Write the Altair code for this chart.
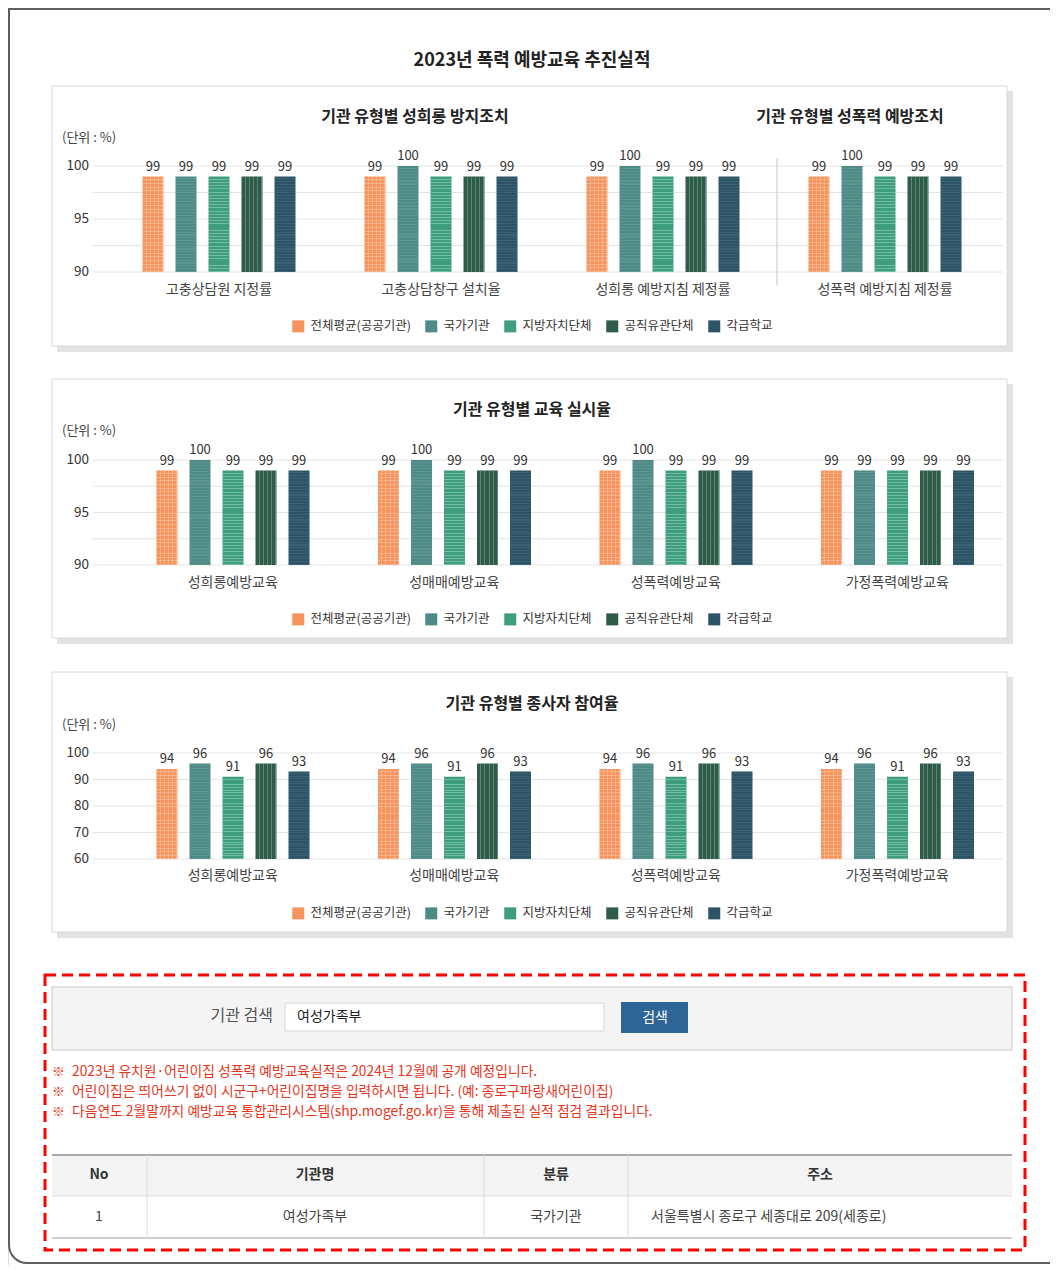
import altair as alt
import pandas as pd

FONT = "Noto Sans CJK KR"

# ---------------- data ----------------
MAIN_TITLE = "2023년 폭력 예방교육 추진실적"
SERIES = ["전체평균(공공기관)", "국가기관", "지방자치단체", "공직유관단체", "각급학교"]
COLORS = ["#F7935C", "#4E8A86", "#3E9D7F", "#2F5B49", "#2D5366"]
UNIT = "(단위 : %)"

P1_TITLES = ["기관 유형별 성희롱 방지조치", "기관 유형별 성폭력 예방조치"]
P1_CATS = ["고충상담원 지정률", "고충상담창구 설치율", "성희롱 예방지침 제정률", "성폭력 예방지침 제정률"]
P1_VALS = [[99, 99, 99, 99, 99],
           [99, 100, 99, 99, 99],
           [99, 100, 99, 99, 99],
           [99, 100, 99, 99, 99]]

P2_TITLE = "기관 유형별 교육 실시율"
P2_CATS = ["성희롱예방교육", "성매매예방교육", "성폭력예방교육", "가정폭력예방교육"]
P2_VALS = [[99, 100, 99, 99, 99],
           [99, 100, 99, 99, 99],
           [99, 100, 99, 99, 99],
           [99, 99, 99, 99, 99]]

P3_TITLE = "기관 유형별 종사자 참여율"
P3_CATS = ["성희롱예방교육", "성매매예방교육", "성폭력예방교육", "가정폭력예방교육"]
P3_VALS = [[94, 96, 91, 96, 93],
           [94, 96, 91, 96, 93],
           [94, 96, 91, 96, 93],
           [94, 96, 91, 96, 93]]

TICKS_A = [90, 95, 100]
GRID_A = [90, 92.5, 95, 97.5, 100]
TICKS_B = [60, 70, 80, 90, 100]

SEARCH_LABEL = "기관 검색"
SEARCH_VALUE = "여성가족부"
SEARCH_BUTTON = "검색"
NOTES = [
    "2023년 유치원·어린이집 성폭력 예방교육실적은 2024년 12월에 공개 예정입니다.",
    "어린이집은 띄어쓰기 없이 시군구+어린이집명을 입력하시면 됩니다. (예: 종로구파랑새어린이집)",
    "다음연도 2월말까지 예방교육 통합관리시스템(shp.mogef.go.kr)을 통해 제출된 실적 점검 결과입니다.",
]
TABLE_HEAD = ["No", "기관명", "분류", "주소"]
TABLE_ROW = ["1", "여성가족부", "국가기관", "서울특별시 종로구 세종대로 209(세종로)"]

# ---------------- helpers ----------------
ONE = pd.DataFrame({"a": [0]})


def txt(s, x, y, size=12, color="#333", weight="normal", align="center"):
    return alt.Chart(pd.DataFrame({"t": [s]})).mark_text(
        font=FONT, fontSize=size, color=color, fontWeight=weight,
        align=align, baseline="middle"
    ).encode(x=alt.value(x), y=alt.value(y), text="t:N")


def box(x1, y1, x2, y2, **kw):
    return alt.Chart(ONE).mark_rect(**kw).encode(
        x=alt.value(x1), x2=alt.value(x2), y=alt.value(y1), y2=alt.value(y2))


def line(x1, y1, x2, y2, **kw):
    return alt.Chart(ONE).mark_rule(**kw).encode(
        x=alt.value(x1), x2=alt.value(x2), y=alt.value(y1), y2=alt.value(y2))


def stripes(n, c_base, c_line, frac, vertical):
    """Sharp-edged striped linear gradient (texture approximation)."""
    stops = []
    for i in range(n):
        a = i / n
        b = (i + 1 - frac) / n
        c = (i + 1) / n
        stops += [alt.GradientStop(color=c_base, offset=a),
                  alt.GradientStop(color=c_base, offset=b),
                  alt.GradientStop(color=c_line, offset=b),
                  alt.GradientStop(color=c_line, offset=c)]
    if vertical:
        return alt.LinearGradient(gradient="linear", stops=stops, x1=0, x2=1, y1=0, y2=0)
    return alt.LinearGradient(gradient="linear", stops=stops, x1=0, x2=0, y1=0, y2=1)


CLEAR = "rgba(255,255,255,0)"
TEXTURES = [
    (SERIES[0], stripes(5, CLEAR, "rgba(255,225,200,0.35)", 0.25, True)),
    (SERIES[0], stripes(26, CLEAR, "rgba(255,225,200,0.35)", 0.25, False)),
    (SERIES[1], stripes(34, CLEAR, "rgba(160,200,195,0.18)", 0.4, False)),
    (SERIES[2], stripes(30, CLEAR, "rgba(190,235,215,0.4)", 0.3, False)),
    (SERIES[3], stripes(5, CLEAR, "rgba(150,190,170,0.45)", 0.25, True)),
    (SERIES[4], stripes(34, CLEAR, "rgba(130,170,185,0.16)", 0.4, False)),
]


def panel(cats, vals, ydom, ticks, grid, yr, xr, cat_y, leg_y):
    rows = [{"cat": c, "series": s, "value": v}
            for c, vs in zip(cats, vals) for s, v in zip(SERIES, vs)]
    df = pd.DataFrame(rows)
    xs = alt.Scale(domain=cats, range=xr, paddingInner=0, paddingOuter=0)
    xo = alt.Scale(type="band", domain=SERIES, range=[34.5, 187.5], paddingInner=0.364, paddingOuter=0)
    ys = alt.Scale(domain=ydom, range=yr, nice=False, zero=False)
    X = alt.X("cat:N", scale=xs, axis=None)
    XO = alt.XOffset("series:N", scale=xo)
    Y = alt.Y("value:Q", scale=ys, axis=None)

    gridl = alt.Chart(pd.DataFrame({"g": grid})).mark_rule(
        color="#E4E4E4", strokeWidth=1
    ).encode(y=alt.Y("g:Q", scale=ys, axis=None), x=alt.value(85), x2=alt.value(995))

    ticklab = alt.Chart(pd.DataFrame({"g": ticks})).mark_text(
        font=FONT, fontSize=13.5, color="#333", align="right", baseline="middle"
    ).encode(y=alt.Y("g:Q", scale=ys, axis=None), x=alt.value(81), text="g:Q")

    bars = alt.Chart(df).mark_bar().encode(
        x=X, xOffset=XO, y=Y, y2=alt.datum(ydom[0]),
        color=alt.Color(
            "series:N",
            scale=alt.Scale(domain=SERIES, range=COLORS),
            legend=alt.Legend(
                orient="none", legendX=284, legendY=leg_y, direction="horizontal",
                title=None, symbolType="square", symbolSize=144, symbolStrokeWidth=0,
                labelFont=FONT, labelFontSize=12.5, labelColor="#333",
                labelOffset=6, columnPadding=14, padding=0,
            ),
        ),
    )
    tex = []
    for s, g in TEXTURES:
        tex.append(
            alt.Chart(df).transform_filter(alt.datum.series == s).mark_bar(fill=g).encode(
                x=X, xOffset=XO, y=Y, y2=alt.datum(ydom[0]))
        )
    labels = alt.Chart(df).mark_text(
        font=FONT, fontSize=13, color="#333", baseline="bottom", dy=-3
    ).encode(x=X, xOffset=XO, y=Y, text="value:Q")

    catlab = alt.Chart(pd.DataFrame({"cat": cats})).mark_text(
        font=FONT, fontSize=14, color="#444", baseline="middle"
    ).encode(x=X, y=alt.value(cat_y), text="cat:N")

    return [gridl, ticklab, bars] + tex + [labels, catlab]


def panel_frame(y1, y2):
    return [
        box(49, y1 + 5, 1005, y2 + 6, fill="#E3E3E3"),
        box(44, y1, 999, y2, fill="white", stroke="#D8D8D8", strokeWidth=1),
    ]


layers = []
# outer rounded border
layers.append(box(1, 1, 1100, 1255, fill="white", stroke="#5F5F5F", strokeWidth=2,
                  cornerRadius=18, cornerRadiusTopLeft=0))
layers.append(txt(MAIN_TITLE, 524, 53, size=18, color="#222", weight="bold"))

# panel 1
layers += panel_frame(78, 338)
layers.append(txt(P1_TITLES[0], 407, 109, size=16, color="#222", weight="bold"))
layers.append(txt(P1_TITLES[1], 842, 109, size=16, color="#222", weight="bold"))
layers.append(txt(UNIT, 54, 130, size=13, color="#444", align="left"))
layers += panel(P1_CATS, P1_VALS, [90, 100], TICKS_A, GRID_A, [264, 158], [100, 988], 282, 312)
layers.append(line(769, 150, 769, 277, color="#D9D9D9", strokeWidth=1.5))

# panel 2
layers += panel_frame(371, 630)
layers.append(txt(P2_TITLE, 524, 402, size=16, color="#222", weight="bold"))
layers.append(txt(UNIT, 54, 423, size=13, color="#444", align="left"))
layers += panel(P2_CATS, P2_VALS, [90, 100], TICKS_A, GRID_A, [557, 452], [114, 1000], 575, 605)

# panel 3
layers += panel_frame(664, 924)
layers.append(txt(P3_TITLE, 524, 696, size=16, color="#222", weight="bold"))
layers.append(txt(UNIT, 54, 717, size=13, color="#444", align="left"))
layers += panel(P3_CATS, P3_VALS, [60, 100], TICKS_B, TICKS_B, [851, 745], [114, 1000], 868, 899)

# bottom: search area
layers.append(box(44, 979, 1004, 1042, fill="#F4F4F4", stroke="#C9C9C9", strokeWidth=1))
layers.append(txt(SEARCH_LABEL, 265, 1008, size=16, color="#555", align="right"))
layers.append(box(277, 995, 596, 1023, fill="white", stroke="#D5D5D5", strokeWidth=1))
layers.append(txt(SEARCH_VALUE, 289, 1009, size=14, color="#222", align="left"))
layers.append(box(613, 994, 680, 1025, fill="#2F6497"))
layers.append(txt(SEARCH_BUTTON, 647, 1010, size=14, color="white"))

# notes
for i, n in enumerate(NOTES):
    yy = 1064 + 20 * i
    layers.append(txt("※", 44, yy, size=13, color="#E8341C", align="left"))
    layers.append(txt(n, 64, yy, size=13.8, color="#E8341C", align="left"))

# table
layers.append(box(44, 1147, 1004, 1188, fill="#F4F4F4"))
layers.append(line(44, 1147, 1004, 1147, color="#AAAAAA", strokeWidth=2))
layers.append(line(44, 1188, 1004, 1188, color="#DDDDDD", strokeWidth=1))
layers.append(line(44, 1230, 1004, 1230, color="#CFCFCF", strokeWidth=2))
for xv in [139, 476, 620]:
    layers.append(line(xv, 1147, xv, 1230, color="#DDDDDD", strokeWidth=1))
col_x = [91, 307, 548, 812]
for h, xv in zip(TABLE_HEAD, col_x):
    layers.append(txt(h, xv, 1167, size=14, color="#333", weight="bold"))
for j, (v, xv) in enumerate(zip(TABLE_ROW, col_x)):
    if j == 3:
        layers.append(txt(v, 643, 1209, size=14, color="#444", align="left"))
    else:
        layers.append(txt(v, xv, 1209, size=14, color="#444"))

# red dashed highlight box
layers.append(box(37, 967, 1017, 1242, fill="transparent", stroke="#FF0000",
                  strokeWidth=3, strokeDash=[11, 6]))

chart = alt.layer(*layers).resolve_scale(
    x="independent", y="independent", color="independent", xOffset="independent"
).properties(
    width=1042, height=1257, autosize="none", padding=0, background="white"
).configure_view(stroke=None).configure(font=FONT)

chart.save("out.html", embed_options={"renderer": "svg", "actions": False})
